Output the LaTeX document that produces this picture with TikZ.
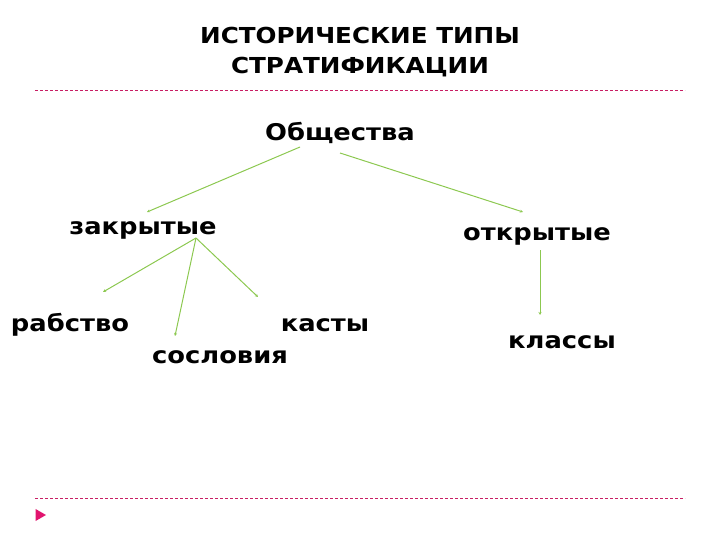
\documentclass[tikz,border=0pt]{standalone}
\usepackage{fontspec}
\setmainfont{DejaVu Sans}[FakeStretch=1.12]
\usetikzlibrary{shapes.geometric,arrows.meta}
\begin{document}
\begin{tikzpicture}[x=1pt,y=-1pt,
  lbl/.style={font=\fontsize{23}{27}\selectfont\bfseries, inner sep=0pt},
  conn/.style={draw={rgb,255:red,140;green,200;blue,80}, line width=1pt, -{Stealth[length=3pt,width=3pt]}},
  sep/.style={draw={rgb,255:red,200;green,30;blue,100}, dash pattern=on 3pt off 2pt, line width=0.6pt}]
\useasboundingbox (0,0) rectangle (720,540);
\node[lbl, align=center, font=\fontsize{22}{30}\selectfont\bfseries] (title) at (360,52) {ИСТОРИЧЕСКИЕ ТИПЫ\\СТРАТИФИКАЦИИ};
\coordinate (d1a) at (35,90); \coordinate (d1b) at (685,90);
\draw[sep] (d1a) -- (d1b);
\coordinate (d2a) at (35,498); \coordinate (d2b) at (685,498);
\draw[sep] (d2a) -- (d2b);
\node[fill={rgb,255:red,225;green,20;blue,110}, draw=none, regular polygon, regular polygon sides=3, shape border rotate=-90, minimum size=14pt, inner sep=0pt] (tri) at (39,515) {};
\node[lbl] (ob) at (340,133) {Общества};
\node[lbl] (zak) at (143,230) {закрытые};
\node[lbl] (otk) at (537,236) {открытые};
\node[lbl] (rab) at (70,325) {рабство};
\node[lbl] (kas) at (325,325) {касты};
\node[lbl] (sos) at (220,357) {сословия};
\node[lbl] (kla) at (562,342) {классы};
\coordinate (o1) at (300,147); \coordinate (z0) at (147,212);
\coordinate (o2) at (340,153); \coordinate (t0) at (523,212);
\coordinate (zz) at (196,238);
\coordinate (r0) at (103,292); \coordinate (s0) at (175,336); \coordinate (k0) at (258,297);
\coordinate (t1) at (540,250); \coordinate (c0) at (540,315);
\draw[conn] (o1) -- (z0);
\draw[conn] (o2) -- (t0);
\draw[conn] (zz) -- (r0);
\draw[conn] (zz) -- (s0);
\draw[conn] (zz) -- (k0);
\draw[conn] (t1) -- (c0);
\end{tikzpicture}
\end{document}
